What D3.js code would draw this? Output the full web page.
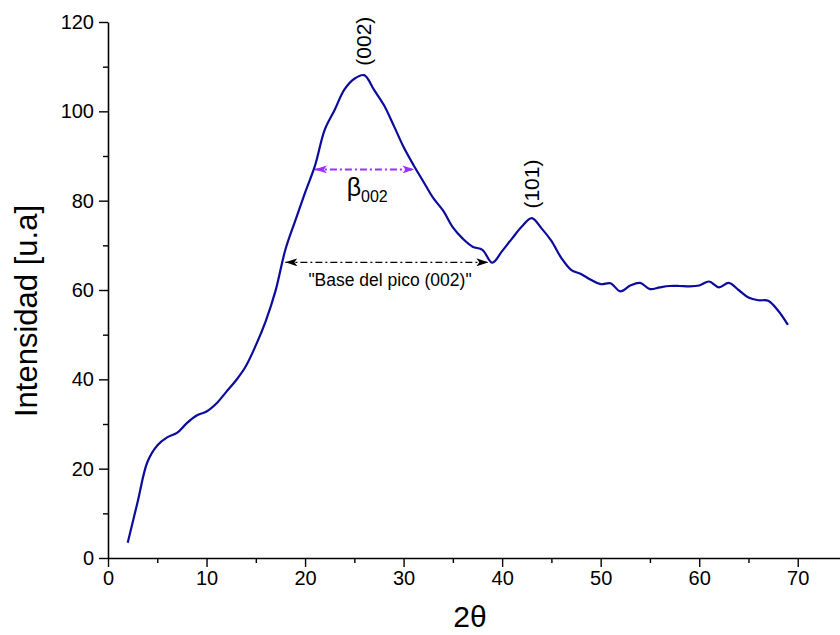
<!DOCTYPE html>
<html>
<head>
<meta charset="utf-8">
<script src="https://cdn.jsdelivr.net/npm/d3@7"></script>
<style>
  html, body { margin: 0; padding: 0; background: #fff; }
  svg { display: block; font-family: "Liberation Sans", Arial, sans-serif; }
</style>
</head>
<body>
<svg id="chart" width="840" height="635"></svg>
<script>
// 2-theta (degrees) and intensity
const twoTheta = [
  2, 3, 4, 5, 6, 7, 8, 9, 10, 11, 12, 13, 14, 15, 16, 17, 18, 19, 20, 21,
  22, 23, 24, 25, 26, 27, 28, 29, 30, 31, 32, 33, 34, 35, 36, 37, 38, 39, 40, 41,
  42, 43, 44, 45, 46, 47, 48, 49, 50, 51, 52, 53, 54, 55, 56, 57, 58, 59, 60, 61,
  62, 63, 64, 65, 66, 67, 68, 69
];
const intensity = [
  3.4, 12.5, 21.5, 25.2, 27.0, 28.0, 30.2, 31.9, 32.8, 34.6, 37.2, 39.8, 43.0, 47.6, 53.0, 59.8, 69.0, 75.5, 81.8, 87.8,
  95.9, 100.3, 104.9, 107.3, 108.1, 104.8, 101.4, 96.8, 92.0, 88.0, 84.3, 80.6, 77.8, 74.0, 71.5, 69.7, 69.0, 66.1, 68.7, 71.5,
  74.2, 76.1, 73.8, 71.0, 67.2, 64.5, 63.6, 62.3, 61.3, 61.5, 59.7, 61.0, 61.6, 60.2, 60.6, 60.9, 60.9, 60.8, 61.0, 61.9,
  60.6, 61.6, 60.0, 58.3, 57.7, 57.6, 55.4, 52.2
];

const xMajor = [0, 10, 20, 30, 40, 50, 60, 70];
const xMinor = [5, 15, 25, 35, 45, 55, 65, 75];
const yMajor = [0, 20, 40, 60, 80, 100, 120];
const yMinor = [10, 30, 50, 70, 90, 110];

// peak labels
const peaks = [
  {x: 26, y: 108.1, label: '(002)'},
  {x: 43, y: 76.1, label: '(101)'}
];
// width markers
const fwhm = {x1: 21.0, x2: 31.1, y: 87};
const base = {x1: 18.0, x2: 38.6, y: 66.2};

const data = twoTheta.map((t, i) => ({x: t, y: intensity[i]}));

const svg = d3.select('#chart');
const x   = d3.scaleLinear().domain([0, 75]).range([108, 847]);
const y   = d3.scaleLinear().domain([0, 120]).range([558, 22]);

const defs = svg.append('defs');
function arrowMarker(id, color) {
  defs.append('marker')
    .attr('id', id)
    .attr('viewBox', '0 0 12 8')
    .attr('refX', 12)
    .attr('refY', 4)
    .attr('markerWidth', 12)
    .attr('markerHeight', 8)
    .attr('markerUnits', 'userSpaceOnUse')
    .attr('orient', 'auto-start-reverse')
    .append('path')
    .attr('d', 'M0,0 L12,4 L0,8 L3,4 Z')
    .attr('fill', color);
}
arrowMarker('arrow-black', '#000');
arrowMarker('arrow-purple', '#9b30ff');

// axes
const xAxis = svg.append('g').attr('transform', `translate(0,${y(0)})`);
xAxis.call(d3.axisBottom(x).tickValues(xMajor).tickSize(9).tickSizeOuter(0).tickPadding(4).tickFormat(d3.format('d')));
xAxis.append('g').call(d3.axisBottom(x).tickValues(xMinor).tickSize(5).tickSizeOuter(0).tickFormat(''))
  .select('.domain').remove();

const yAxis = svg.append('g').attr('transform', `translate(${x(0)},0)`);
yAxis.call(d3.axisLeft(y).tickValues(yMajor).tickSize(9).tickSizeOuter(0).tickPadding(5).tickFormat(d3.format('d')));
yAxis.append('g').call(d3.axisLeft(y).tickValues(yMinor).tickSize(5).tickSizeOuter(0).tickFormat(''))
  .select('.domain').remove();

svg.selectAll('.domain').attr('stroke', '#000').attr('stroke-width', 1.6);
svg.selectAll('.tick line').attr('stroke', '#000').attr('stroke-width', 1.4);
svg.selectAll('.tick text')
  .attr('font-size', 20)
  .attr('font-family', '"Liberation Sans", Arial, sans-serif')
  .attr('fill', '#000');

// axis titles
svg.append('text')
  .attr('x', 470)
  .attr('y', 627)
  .attr('text-anchor', 'middle')
  .attr('font-size', 30)
  .text('2\u03b8');

svg.append('text')
  .attr('transform', `translate(37,${(200 + 422) / 2}) rotate(-90)`)
  .attr('text-anchor', 'middle')
  .attr('font-size', 31)
  .text('Intensidad [u.a]');

// curve
const line = d3.line()
  .x(d => x(d.x))
  .y(d => y(d.y))
  .curve(d3.curveCatmullRom.alpha(0.5));

svg.append('path')
  .datum(data)
  .attr('d', line)
  .attr('fill', 'none')
  .attr('stroke', '#0b0b9c')
  .attr('stroke-width', 2.2)
  .attr('stroke-linejoin', 'round');

// peak labels
svg.selectAll('text.peak')
  .data(peaks)
  .join('text')
  .classed('peak', true)
  .attr('transform', d => `translate(${x(d.x) + 7},${y(d.y) - 34}) rotate(-90)`)
  .attr('text-anchor', 'middle')
  .attr('font-size', 21)
  .text(d => d.label);

// FWHM marker
svg.append('line')
  .attr('x1', x(fwhm.x1)).attr('x2', x(fwhm.x2))
  .attr('y1', y(fwhm.y)).attr('y2', y(fwhm.y))
  .attr('stroke', '#9b30ff')
  .attr('stroke-width', 2)
  .attr('stroke-dasharray', '7,3,2,3')
  .attr('marker-start', 'url(#arrow-purple)')
  .attr('marker-end', 'url(#arrow-purple)');

const beta = svg.append('text')
  .attr('x', (x(fwhm.x1) + x(fwhm.x2)) / 2 - 18)
  .attr('y', y(fwhm.y) + 27)
  .attr('font-size', 25);
beta.append('tspan').text('\u03b2');
beta.append('tspan').attr('font-size', 16).attr('dy', 6).text('002');

// base marker
svg.append('line')
  .attr('x1', x(base.x1)).attr('x2', x(base.x2))
  .attr('y1', y(base.y)).attr('y2', y(base.y))
  .attr('stroke', '#000')
  .attr('stroke-width', 1.2)
  .attr('stroke-dasharray', '7,3,2,3')
  .attr('marker-start', 'url(#arrow-black)')
  .attr('marker-end', 'url(#arrow-black)');

svg.append('text')
  .attr('x', 390)
  .attr('y', y(base.y) + 24)
  .attr('text-anchor', 'middle')
  .attr('font-size', 17.5)
  .text('"Base del pico (002)"');
</script>
</body>
</html>
